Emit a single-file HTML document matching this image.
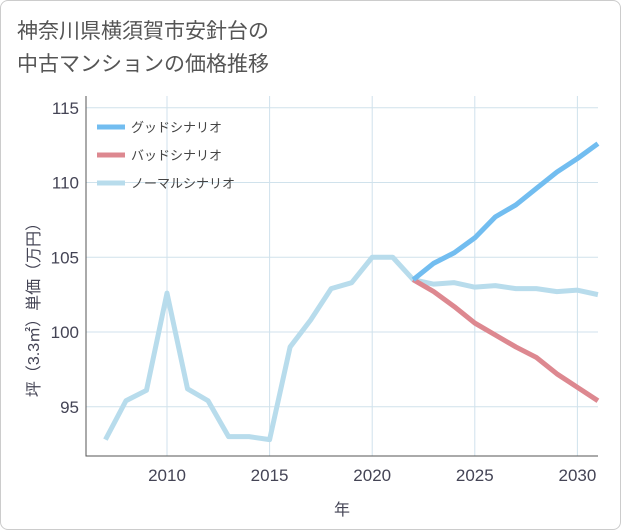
<!DOCTYPE html>
<html><head><meta charset="utf-8"><style>
body{margin:0;background:#fff;}
.wrap{width:619px;height:528px;border:1px solid #ccc;border-radius:8px;position:relative;overflow:hidden;background:#fff;font-family:"Liberation Sans","Noto Sans CJK JP",sans-serif;}
.title{position:absolute;left:16px;top:14px;font-size:21px;line-height:33px;color:#555;}
</style></head><body>
<div class="wrap">
<div class="title">神奈川県横須賀市安針台の<br>中古マンションの価格推移</div>
<svg id="chart" width="621" height="530" style="position:absolute;left:0;top:0"></svg>
</div>
<script>
const years=[2007,2008,2009,2010,2011,2012,2013,2014,2015,2016,2017,2018,2019,2020,2021,2022,2023,2024,2025,2026,2027,2028,2029,2030,2031];
const normalValues=[92.8,95.4,96.1,102.6,96.2,95.4,93.0,93.0,92.8,99.0,100.8,102.9,103.3,105.0,105.0,103.5,103.2,103.3,103.0,103.1,102.9,102.9,102.7,102.8,102.5];
const futureYears=[2022,2023,2024,2025,2026,2027,2028,2029,2030,2031];
const goodValues=[103.5,104.6,105.3,106.3,107.7,108.5,109.6,110.7,111.6,112.6];
const badValues=[103.5,102.7,101.7,100.6,99.8,99.0,98.3,97.2,96.3,95.4];
const xTicks=[2010,2015,2020,2025,2030];
const yTicks=[95,100,105,110,115];
const legendLabels=["グッドシナリオ","バッドシナリオ","ノーマルシナリオ"];
const colors=["#72bdf0","#dd8890","#b8dcec"];
const svg=document.getElementById('chart');
const NS='http://www.w3.org/2000/svg';
const L=85,R=597,T=95,B=455;
const x=v=>166+(v-2010)*20.52;
const y=v=>331-(v-100)*14.95;
function mk(tag,attrs){const e=document.createElementNS(NS,tag);for(const k in attrs)e.setAttribute(k,attrs[k]);svg.appendChild(e);return e;}
xTicks.forEach(t=>{const l=mk('line',{x1:x(t),x2:x(t),y1:T,y2:B,stroke:'#d0e2ec','stroke-width':1});


const tx=mk('text',{x:x(t),y:480,'text-anchor':'middle','font-size':17,fill:'#445'});tx.textContent=t;

});
yTicks.forEach(t=>{const l=mk('line',{x1:L,x2:R,y1:y(t),y2:y(t),stroke:'#d0e2ec','stroke-width':1});


const tx=mk('text',{x:78,y:y(t)+6,'text-anchor':'end','font-size':17,fill:'#445'});tx.textContent=t;

});
const ax=mk('path',{d:`M${L} ${T}V${B}H${R}`,stroke:'#555',fill:'none','stroke-width':1});


function line(xs,vs,c,name){const p=mk('polyline',{points:xs.map((v,i)=>x(v)+','+y(vs[i])).join(' '),fill:'none',stroke:c,'stroke-width':5,'stroke-linejoin':'round'});

}
line(years,normalValues,colors[2],'normal-series-line');
line(futureYears,badValues,colors[1],'bad-series-line');
line(futureYears,goodValues,colors[0],'good-series-line');
legendLabels.forEach((s,i)=>{const yy=126+i*28;
const l=mk('line',{x1:96,x2:124,y1:yy,y2:yy,stroke:colors[i],'stroke-width':5});


const t=mk('text',{x:130,y:yy+5,'font-size':13,fill:'#444'});t.textContent=s;

});
const xt=mk('text',{x:341,y:514,'text-anchor':'middle','font-size':16,fill:'#445'});xt.textContent='年';


const yt=mk('text',{x:0,y:0,'text-anchor':'middle','font-size':16,fill:'#445',transform:'translate(38,305) rotate(-90)'});yt.textContent='坪（3.3㎡）単価（万円）';


</script>
</body></html>
